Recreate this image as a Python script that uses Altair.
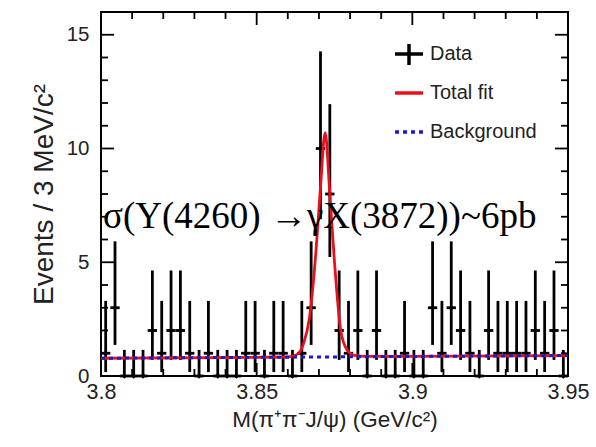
import altair as alt
import pandas as pd

# ---- data ----
bin_center = [3.8015, 3.8045, 3.8075, 3.8105, 3.8135, 3.8165, 3.8195, 3.8225, 3.8255, 3.8285,
              3.8315, 3.8345, 3.8375, 3.8405, 3.8435, 3.8465, 3.8495, 3.8525, 3.8555, 3.8585,
              3.8615, 3.8645, 3.8675, 3.8705, 3.8735, 3.8765, 3.8795, 3.8825, 3.8855, 3.8885,
              3.8915, 3.8945, 3.8975, 3.9005, 3.9035, 3.9065, 3.9095, 3.9125, 3.9155, 3.9185,
              3.9215, 3.9245, 3.9275, 3.9305, 3.9335, 3.9365, 3.9395, 3.9425, 3.9455, 3.9485]
counts = [1, 3, 0, 0, 0, 2, 1, 2, 2, 1,
          0, 1, 0, 0, 0, 1, 1, 0, 1, 1,
          0, 1, 3, 10, 8, 2, 1, 2, 0, 2,
          0, 0, 1, 0, 0, 3, 1, 3, 2, 1,
          0, 2, 1, 1, 1, 1, 2, 1, 2, 0]
half_bin = 0.0015
# Poisson error-bar ends per count (as drawn)
err_low = {0: 0.0, 1: 0.173, 2: 0.708, 3: 1.367, 8: 5.232, 10: 6.891}
err_high = {0: 1.148, 1: 3.300, 2: 4.638, 3: 5.918, 8: 11.95, 10: 14.27}

fit_mass = [3.800, 3.850, 3.860, 3.863, 3.865, 3.867, 3.869, 3.8705, 3.872, 3.8735,
            3.875, 3.877, 3.879, 3.881, 3.885, 3.900, 3.950]
fit_total = [0.78, 0.82, 0.84, 0.95, 1.4, 2.6, 5.4, 8.3, 10.7, 8.0,
             5.0, 2.0, 1.15, 0.92, 0.86, 0.86, 0.90]
bg_mass = [3.80, 3.95]
bg_value = [0.78, 0.90]

x_ticks_major = [3.85, 3.9]
x_ticks_minor = [3.81, 3.82, 3.83, 3.84, 3.86, 3.87, 3.88, 3.89, 3.91, 3.92, 3.93, 3.94]
y_ticks_major = [5, 10, 15]
y_ticks_minor = [1, 2, 3, 4, 6, 7, 8, 9, 11, 12, 13, 14]

legend_labels = ["Data", "Total fit", "Background"]
annotation = ["σ(Y(4260) →γX(3872))~6pb"]

W, H = 467, 364
xs = alt.Scale(domain=[3.8, 3.95], nice=False, zero=False)
ys = alt.Scale(domain=[0, 16], nice=False, zero=False)

data = pd.DataFrame({
    "m": bin_center,
    "n": counts,
    "mlo": [c - half_bin for c in bin_center],
    "mhi": [c + half_bin for c in bin_center],
    "elo": [err_low[c] for c in counts],
    "ehi": [err_high[c] for c in counts],
})
fit = pd.DataFrame({"m": fit_mass, "v": fit_total})
bg = pd.DataFrame({"m": bg_mass, "v": bg_value})

xax = alt.Axis(values=[3.8, 3.85, 3.9, 3.95], format=".2~f", grid=False, ticks=False, domain=False,
               labelFont="Liberation Sans", labelFontSize=21.5, labelColor="#222", labelPadding=5,
               title="M(π⁺π⁻J/ψ) (GeV/c²)", titleFont="Liberation Sans", titleFontSize=22.5,
               titleFontWeight="normal", titleColor="#222", titlePadding=6, labelFlush=False)
yax = alt.Axis(values=[0, 5, 10, 15], format="d", grid=False, ticks=False, domain=False,
               labelFont="Liberation Sans", labelFontSize=20.5, labelColor="#222", labelPadding=12,
               title="Events / 3 MeV/c²", titleFont="Liberation Sans", titleFontSize=28,
               titleFontWeight="normal", titleColor="#222", titlePadding=8)

vbars = alt.Chart(data).mark_rule(color="black", strokeWidth=2.8).encode(
    x=alt.X("m:Q", scale=xs, axis=xax),
    y=alt.Y("elo:Q", scale=ys, axis=yax),
    y2="ehi:Q",
)
hbars = alt.Chart(data).mark_rule(color="black", strokeWidth=2.8).encode(
    x=alt.X("mlo:Q", scale=xs), x2="mhi:Q", y=alt.Y("n:Q", scale=ys)
)
dots = alt.Chart(data).mark_point(shape="diamond", filled=True, color="black", size=30, opacity=1).encode(
    x=alt.X("m:Q", scale=xs), y=alt.Y("n:Q", scale=ys)
)
fit_line = alt.Chart(fit).mark_line(color="#e8101c", strokeWidth=2.8, interpolate="monotone").encode(
    x=alt.X("m:Q", scale=xs), y=alt.Y("v:Q", scale=ys)
)
bg_line = alt.Chart(bg).mark_line(color="#1a1acc", strokeWidth=3, strokeDash=[4, 4]).encode(
    x=alt.X("m:Q", scale=xs), y=alt.Y("v:Q", scale=ys)
)

def xt(vals, length, top):
    df = pd.DataFrame({"t": vals})
    y0, y1 = (0, length) if top else (H, H - length)
    return alt.Chart(df).mark_rule(color="black", strokeWidth=1.8).encode(
        x=alt.X("t:Q", scale=xs), y=alt.value(y0), y2=alt.value(y1))

def yt(vals, length, left):
    df = pd.DataFrame({"t": vals})
    x0, x1 = (0, length) if left else (W, W - length)
    return alt.Chart(df).mark_rule(color="black", strokeWidth=1.8).encode(
        y=alt.Y("t:Q", scale=ys), x=alt.value(x0), x2=alt.value(x1))

ticks = [xt(x_ticks_major, 13, True), xt(x_ticks_minor, 7, True),
         xt(x_ticks_major, 13, False), xt(x_ticks_minor, 7, False),
         yt(y_ticks_major, 13, True), yt(y_ticks_minor, 7, True),
         yt(y_ticks_major, 13, False), yt(y_ticks_minor, 7, False)]

leg = pd.DataFrame({"label": legend_labels, "py": [42, 81, 120]})
leg_text = alt.Chart(leg).mark_text(align="left", baseline="middle", font="Liberation Sans",
                                    fontSize=20, color="#222").encode(
    x=alt.value(329), y=alt.Y("py:Q", scale=None), text="label:N")
leg_data_h = alt.Chart(leg.iloc[[0]]).mark_rule(color="black", strokeWidth=3.5).encode(
    x=alt.value(294), x2=alt.value(322), y=alt.Y("py:Q", scale=None))
leg_data_v = alt.Chart(leg.iloc[[0]]).mark_rule(color="black", strokeWidth=3.5).encode(
    x=alt.value(308), y=alt.value(32), y2=alt.value(53))
leg_fit = alt.Chart(leg.iloc[[1]]).mark_rule(color="#e8101c", strokeWidth=3.5).encode(
    x=alt.value(294), x2=alt.value(322), y=alt.Y("py:Q", scale=None))
leg_bg = alt.Chart(leg.iloc[[2]]).mark_rule(color="#1a1acc", strokeWidth=3.5, strokeDash=[4, 4]).encode(
    x=alt.value(294), x2=alt.value(322), y=alt.Y("py:Q", scale=None))

ann = alt.Chart(pd.DataFrame({"t": annotation})).mark_text(
    align="left", baseline="middle", font="Liberation Serif", fontSize=37, color="black").encode(
    x=alt.value(2), y=alt.value(205), text="t:N")

chart = alt.layer(vbars, hbars, dots, fit_line, bg_line, *ticks,
                  leg_data_h, leg_data_v, leg_fit, leg_bg, leg_text, ann).properties(
    width=W, height=H,
    padding={"left": 101, "top": 12, "right": 28, "bottom": 71},
    autosize=alt.AutoSizeParams(type="none"),
    background="white",
).configure_view(stroke="black", strokeWidth=2)

chart.save("out.html", embed_options={"renderer": "svg", "actions": False})
